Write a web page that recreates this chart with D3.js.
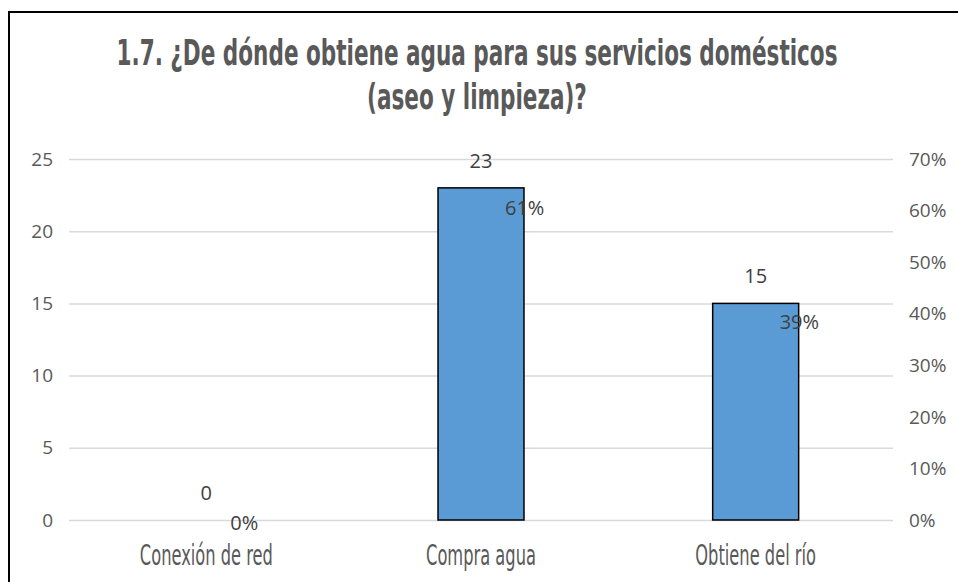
<!DOCTYPE html>
<html>
<head>
<meta charset="utf-8">
<script src="https://cdn.jsdelivr.net/npm/d3@7"></script>
<style>
  body { margin: 0; background: #fff; }
  svg { display: block; }
  .tick-label { font-family: "Open Sans", sans-serif; font-size: 19px; fill: #595959; }
  .data-label { font-family: "Open Sans", sans-serif; font-size: 20px; fill: #404040; }
  .cond { font-family: "DejaVu Sans Condensed", "DejaVu Sans", sans-serif; font-stretch: condensed; fill: #595959; }
</style>
</head>
<body>
<div id="chart"></div>
<script>
// Chart data
const titleLines = ["1.7. ¿De dónde obtiene agua para sus servicios domésticos", "(aseo y limpieza)?"];
const categories = ["Conexión de red", "Compra agua", "Obtiene del río"];
const counts = [0, 23, 15];
const percents = [0, 0.61, 0.39];
const leftTicks = [0, 5, 10, 15, 20, 25];
const rightTicks = [0, 0.1, 0.2, 0.3, 0.4, 0.5, 0.6, 0.7];

const width = 958, height = 582;
const svg = d3.select("#chart").append("svg")
    .attr("width", width)
    .attr("height", height);

// Chart frame (runs off the right and bottom edges)
svg.append("rect")
    .attr("x", 9).attr("y", 12)
    .attr("width", 1000).attr("height", 620)
    .attr("fill", "#fff")
    .attr("stroke", "#000")
    .attr("stroke-width", 2);

const plot = { left: 69, right: 893, top: 159, bottom: 520 };

const x = d3.scaleBand()
    .domain(categories)
    .range([plot.left, plot.right])
    .padding(0);

const y = d3.scaleLinear().domain([0, 25]).range([plot.bottom, plot.top]);
const y2 = d3.scaleLinear().domain([0, 0.7]).range([plot.bottom, plot.top]);

// Gridlines
svg.append("g")
    .selectAll("line")
    .data(leftTicks)
    .join("line")
    .attr("x1", plot.left).attr("x2", plot.right)
    .attr("y1", d => y(d) + 0.5).attr("y2", d => y(d) + 0.5)
    .attr("stroke", "#d9d9d9")
    .attr("stroke-width", 1.5);

// Left axis labels
svg.append("g")
    .selectAll("text")
    .data(leftTicks)
    .join("text")
    .attr("class", "tick-label")
    .attr("x", 53)
    .attr("y", d => y(d))
    .attr("dy", "0.35em")
    .attr("text-anchor", "end")
    .text(d => d);

// Right axis labels
svg.append("g")
    .selectAll("text")
    .data(rightTicks)
    .join("text")
    .attr("class", "tick-label")
    .attr("x", 909)
    .attr("y", d => y2(d))
    .attr("dy", "0.35em")
    .text(d3.format(".0%"));

// Bars
const barW = x.bandwidth() * 0.313;
svg.append("g")
    .selectAll("rect")
    .data(counts)
    .join("rect")
    .attr("x", (d, i) => x(categories[i]) + x.bandwidth() / 2 - barW / 2)
    .attr("y", d => y(d))
    .attr("width", barW)
    .attr("height", d => y(0) - y(d))
    .attr("fill", "#5b9bd5")
    .attr("stroke", d => d > 0 ? "#000" : "none")
    .attr("stroke-width", 1.5);

// Count labels above bars
svg.append("g")
    .selectAll("text")
    .data(counts)
    .join("text")
    .attr("class", "data-label")
    .attr("x", (d, i) => x(categories[i]) + x.bandwidth() / 2)
    .attr("y", d => y(d) - 27)
    .attr("dy", "0.35em")
    .attr("text-anchor", "middle")
    .text(d => d);

// Percentage labels (hidden line series, labels to the right)
svg.append("g")
    .selectAll("text")
    .data(percents)
    .join("text")
    .attr("class", "data-label")
    .attr("x", (d, i) => x(categories[i]) + x.bandwidth() / 2 + 24)
    .attr("y", d => y2(d) + 3)
    .attr("dy", "0.35em")
    .text(d3.format(".0%"));

// Category labels, squeezed to look like a narrow display face
const catText = svg.append("g")
    .selectAll("text")
    .data(categories)
    .join("text")
    .attr("class", "cond")
    .attr("font-size", 28)
    .attr("x", d => x(d) + x.bandwidth() / 2)
    .attr("y", 565)
    .attr("text-anchor", "middle")
    .text(d => d);
const catRatio = 133 / catText.nodes()[0].getComputedTextLength();
catText.each(function () {
    d3.select(this)
        .attr("textLength", this.getComputedTextLength() * catRatio)
        .attr("lengthAdjust", "spacingAndGlyphs");
});

// Title
const title = svg.append("g")
    .selectAll("text")
    .data(titleLines)
    .join("text")
    .attr("class", "cond")
    .attr("font-size", 35)
    .attr("font-weight", "bold")
    .attr("x", 477)
    .attr("y", (d, i) => 65 + i * 44)
    .attr("text-anchor", "middle")
    .text(d => d);
const titleRatio = 721 / title.nodes()[0].getComputedTextLength();
title.each(function () {
    d3.select(this)
        .attr("textLength", this.getComputedTextLength() * titleRatio)
        .attr("lengthAdjust", "spacingAndGlyphs");
});
</script>
</body>
</html>
